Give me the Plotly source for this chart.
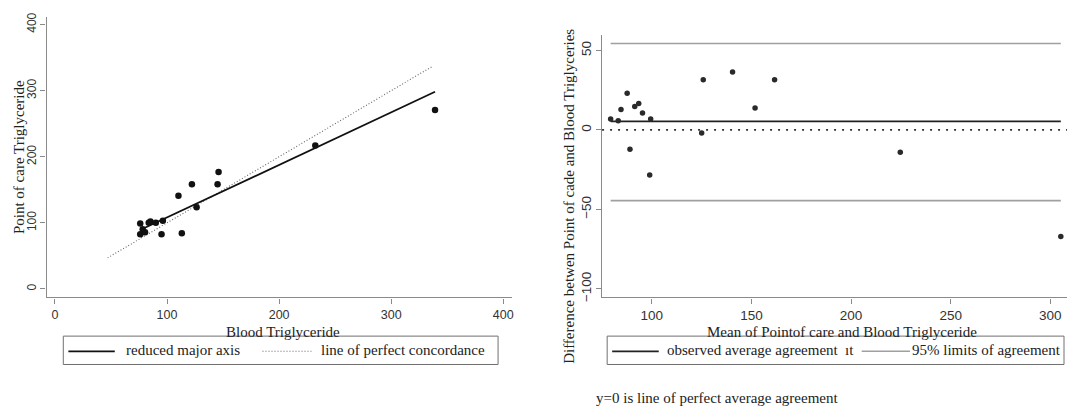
import plotly.graph_objects as go

W, H = 1069, 413

# ---------------- Left panel: scatter with reduced major axis ----------------
blood_tg = [76.1, 76.1, 78.3, 80.4, 83.7, 85.2, 90.0, 95.1, 96.3, 110.2,
            113.2, 122.2, 126.4, 145.1, 146.0, 232.3, 339.1]
poc_tg = [99.1, 82.9, 90.3, 85.8, 100.0, 102.1, 100.0, 82.9, 103.0, 141.0,
          84.3, 158.3, 123.7, 158.3, 177.0, 216.9, 270.8]
rma_x = [77.4, 339.1]
rma_y = [90.3, 298.3]
concord_x = [47, 337]
concord_y = [47, 337]
left_ticks = [0, 100, 200, 300, 400]

# ---------------- Right panel: Bland-Altman ----------------
mean_tg = [79.3, 83.1, 84.5, 87.6, 89.0, 91.4, 93.4, 95.3, 98.9, 99.4,
           125.0, 125.8, 140.5, 151.8, 161.6, 224.7, 305.3]
diff_tg = [6.8, 5.8, 12.9, 23.0, -12.1, 14.8, 16.6, 10.7, -28.3, 6.8,
           -2.0, 31.6, 36.5, 13.8, 31.6, -14.1, -67.0]
mean_diff = 5.35
loa_upper = 54.4
loa_lower = -44.5
right_xticks = [100, 150, 200, 250, 300]
right_yticks = [-100, -50, 0, 50]
left_marked_tick = [400]
right_marked_tick = [300]


def px(xp):
    return xp / W


def py(yp):
    return 1 - yp / H


AX = "#8a8a8a"
TICKF = dict(family="Liberation Sans, Arial, sans-serif", color="#333333")
SERIF = "Liberation Serif, Times New Roman, serif"

fig = go.Figure()

# Left panel traces
fig.add_trace(go.Scatter(x=concord_x, y=concord_y, mode="lines",
                         line=dict(color="#666666", width=1.1, dash="1px,2px"),
                         xaxis="x", yaxis="y", showlegend=False, hoverinfo="skip"))
fig.add_trace(go.Scatter(x=rma_x, y=rma_y, mode="lines",
                         line=dict(color="#111111", width=1.8),
                         xaxis="x", yaxis="y", showlegend=False, hoverinfo="skip"))
fig.add_trace(go.Scatter(x=blood_tg, y=poc_tg, mode="markers",
                         marker=dict(color="#111111", size=6.5),
                         xaxis="x", yaxis="y", showlegend=False))

# Right panel traces
span = [min(mean_tg), max(mean_tg)]
fig.add_trace(go.Scatter(x=span, y=[loa_upper, loa_upper], mode="lines",
                         line=dict(color="#a0a0a0", width=1.6),
                         xaxis="x2", yaxis="y2", showlegend=False, hoverinfo="skip"))
fig.add_trace(go.Scatter(x=span, y=[loa_lower, loa_lower], mode="lines",
                         line=dict(color="#a0a0a0", width=1.6),
                         xaxis="x2", yaxis="y2", showlegend=False, hoverinfo="skip"))
fig.add_trace(go.Scatter(x=span, y=[mean_diff, mean_diff], mode="lines",
                         line=dict(color="#222222", width=1.8),
                         xaxis="x2", yaxis="y2", showlegend=False, hoverinfo="skip"))
fig.add_trace(go.Scatter(x=mean_tg, y=diff_tg, mode="markers",
                         marker=dict(color="#2a2a2a", size=5.5),
                         xaxis="x2", yaxis="y2", showlegend=False))

axis_common = dict(showline=True, linecolor=AX, linewidth=1.3, ticks="outside",
                   ticklen=5, tickcolor=AX, tickwidth=1.2, showgrid=False,
                   zeroline=False)
marked_common = dict(showline=False, ticks="outside", ticklen=5, tickwidth=1.4,
                     showticklabels=False, showgrid=False, zeroline=False)

fig.update_layout(
    width=W, height=H,
    margin=dict(l=0, r=0, t=0, b=0),
    paper_bgcolor="white", plot_bgcolor="white",
    xaxis=dict(domain=[px(46.6), px(513)], range=[-7.5, 407.8], tickvals=left_ticks,
               anchor="y", tickfont=dict(size=12.5, **TICKF), **axis_common),
    yaxis=dict(domain=[py(299), py(12.7)], range=[-12.9, 410.8], tickvals=left_ticks,
               anchor="x", tickangle=-90, tickfont=dict(size=12, **TICKF), **axis_common),
    xaxis2=dict(domain=[px(603.2), 1.0], range=[75.0, 308.4], tickvals=right_xticks,
                anchor="y2", tickfont=dict(size=13.5, **TICKF), **axis_common),
    yaxis2=dict(domain=[py(299), py(31)], range=[-105.4, 59.5], tickvals=right_yticks,
                anchor="x2", tickangle=-90, tickfont=dict(size=13.5, **TICKF), **axis_common),
    # coloured single tick marks seen on the original axes
    xaxis3=dict(overlaying="x", matches="x", anchor="y", tickvals=left_marked_tick,
                tickcolor="#c8485e", **marked_common),
    xaxis4=dict(overlaying="x2", matches="x2", anchor="y2", tickvals=right_marked_tick,
                tickcolor="#a83296", **marked_common),
)

# zero line (perfect agreement) across the right panel
shapes = [dict(type="line", xref="x2 domain", yref="y2", x0=0, x1=1, y0=0, y1=0,
               line=dict(color="#333333", width=1.6, dash="2px,6px"))]

# legend boxes
shapes.append(dict(type="rect", xref="paper", yref="paper",
                   x0=px(63.4), x1=px(499), y0=py(367.5), y1=py(338.5),
                   line=dict(color="#707070", width=1), fillcolor="rgba(0,0,0,0)"))
shapes.append(dict(type="rect", xref="paper", yref="paper",
                   x0=px(608.3), x1=px(1066), y0=py(367.5), y1=py(338.5),
                   line=dict(color="#707070", width=1), fillcolor="rgba(0,0,0,0)"))
# legend samples
shapes.append(dict(type="line", xref="paper", yref="paper", x0=px(68.5), x1=px(115),
                   y0=py(354), y1=py(354), line=dict(color="#111111", width=1.8)))
shapes.append(dict(type="line", xref="paper", yref="paper", x0=px(263), x1=px(312),
                   y0=py(354), y1=py(354), line=dict(color="#666666", width=1.1, dash="1px,2px")))
shapes.append(dict(type="line", xref="paper", yref="paper", x0=px(613.3), x1=px(660),
                   y0=py(354), y1=py(354), line=dict(color="#222222", width=1.8)))
shapes.append(dict(type="line", xref="paper", yref="paper", x0=px(863.3), x1=px(911.7),
                   y0=py(354), y1=py(354), line=dict(color="#a0a0a0", width=1.6)))
fig.update_layout(shapes=shapes)


def ann(text, x, y, size=15, xanchor="center", angle=0, color="#222222"):
    return dict(text=text, x=px(x), y=py(y), xref="paper", yref="paper",
                xanchor=xanchor, yanchor="middle", showarrow=False, textangle=angle,
                font=dict(family=SERIF, size=size, color=color))


annotations = [
    ann("Blood Triglyceride", 284, 334.5),
    ann("Point of care Triglyceride", 18.5, 155, angle=-90),
    ann("Mean of Pointof care and Blood Triglyceride", 844, 334),
    ann("Difference betwen Point of cade and Blood Triglyceries", 570.2, 196, angle=-90),
    ann("reduced major axis", 124, 353, xanchor="left"),
    ann("line of perfect concordance", 319.5, 353, xanchor="left"),
    ann("observed average agreement", 666, 353, xanchor="left"),
    ann("ıt", 845, 353, xanchor="left"),
    ann("95% limits of agreement", 911.5, 353, xanchor="left"),
    ann("y=0 is line of perfect average agreement", 595, 402, xanchor="left"),
]
fig.update_layout(annotations=annotations)

fig.write_html(
    "out.html",
    config={"displayModeBar": False},
    post_script="document.body.style.margin='0';document.body.style.overflow='hidden';",
)
